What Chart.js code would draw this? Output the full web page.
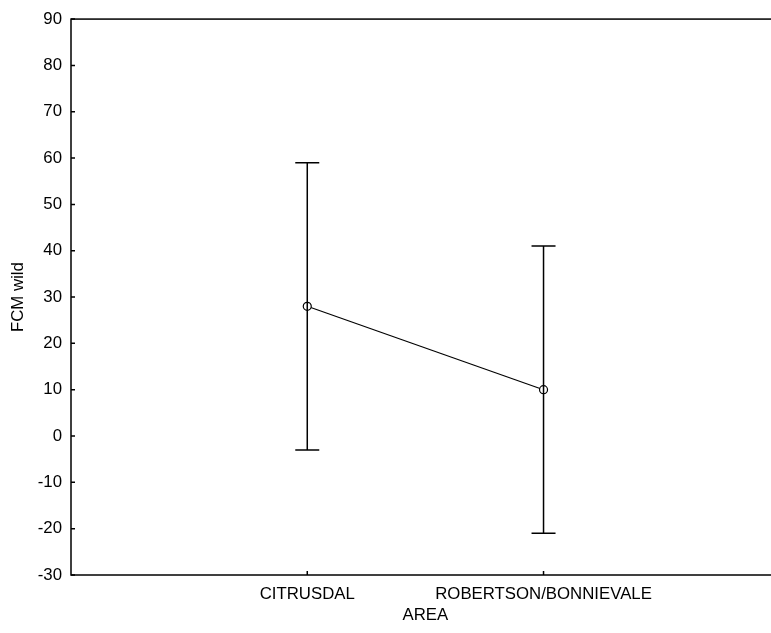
<!DOCTYPE html>
<html>
<head>
<meta charset="utf-8">
<script src="https://cdn.jsdelivr.net/npm/chart.js@4.4.0/dist/chart.umd.min.js"></script>
<style>
  html, body { margin: 0; padding: 0; background: #fff; overflow: hidden; }
  #wrap { width: 771px; height: 633px; overflow: hidden; }
</style>
</head>
<body>
<div id="wrap"><canvas id="chart" width="785" height="633"></canvas></div>
<script>
const areas = ['CITRUSDAL', 'ROBERTSON/BONNIEVALE'];
const means = [28, 10];
const upper = [59, 41];
const lower = [-3, -21];
const yTicks = [-30, -20, -10, 0, 10, 20, 30, 40, 50, 60, 70, 80, 90];

const font = { family: 'Liberation Sans, Arial, sans-serif', size: 16.8 };

// whiskers + caps, drawn over the line so the circles sit on the bar
const errorBars = {
  id: 'errorBars',
  afterDatasetsDraw(chart) {
    const { ctx, scales: { x, y } } = chart;
    ctx.save();
    ctx.strokeStyle = '#000';
    ctx.lineWidth = 1.5;
    areas.forEach((name, i) => {
      const px = x.getPixelForValue(i + 1);
      const top = y.getPixelForValue(upper[i]);
      const bot = y.getPixelForValue(lower[i]);
      ctx.beginPath();
      ctx.moveTo(px, top); ctx.lineTo(px, bot);
      ctx.moveTo(px - 12, top); ctx.lineTo(px + 12, top);
      ctx.moveTo(px - 12, bot); ctx.lineTo(px + 12, bot);
      ctx.stroke();
    });
    ctx.restore();
  }
};

// box round the plot with small inward ticks
const frame = {
  id: 'frame',
  afterDraw(chart) {
    const { ctx, chartArea: a, scales: { x, y } } = chart;
    ctx.save();
    ctx.strokeStyle = '#000';
    ctx.lineWidth = 1.5;
    ctx.strokeRect(a.left, a.top, a.right - a.left, a.bottom - a.top);
    ctx.beginPath();
    yTicks.forEach((v) => {
      const py = y.getPixelForValue(v);
      ctx.moveTo(a.left, py); ctx.lineTo(a.left + 4, py);
    });
    areas.forEach((n, i) => {
      const px = x.getPixelForValue(i + 1);
      ctx.moveTo(px, a.bottom); ctx.lineTo(px, a.bottom - 4);
    });
    ctx.stroke();
    ctx.restore();
  }
};

new Chart(document.getElementById('chart'), {
  type: 'line',
  data: {
    datasets: [{
      data: areas.map((a, i) => ({ x: i + 1, y: means[i] })),
      borderColor: '#000',
      borderWidth: 1.2,
      tension: 0,
      pointRadius: 4,
      pointBorderWidth: 1.2,
      pointBorderColor: '#000',
      pointBackgroundColor: '#fff',
    }],
  },
  options: {
    responsive: false,
    animation: false,
    devicePixelRatio: 1,
    layout: { padding: { top: 19, right: 1, left: 0, bottom: 0 } },
    plugins: { legend: { display: false }, tooltip: { enabled: false } },
    scales: {
      x: {
        type: 'linear',
        min: 0,
        max: 3,
        afterBuildTicks: (s) => { s.ticks = areas.map((a, i) => ({ value: i + 1 })); },
        afterFit: (s) => { s.height = 58; s.paddingLeft = 0; s.paddingRight = 0; },
        grid: { display: false, drawTicks: false },
        border: { display: false },
        ticks: {
          color: '#000', font, padding: 9, maxRotation: 0, autoSkip: false,
          callback: (v) => areas[Math.round(v) - 1],
        },
        title: { display: true, text: 'AREA', color: '#000', font, padding: { top: 0, bottom: 8 } },
      },
      y: {
        min: -30,
        max: 90,
        afterBuildTicks: (s) => { s.ticks = yTicks.map((v) => ({ value: v })); },
        afterFit: (s) => { s.width = 71; },
        grid: { display: false, drawTicks: false },
        border: { display: false },
        ticks: { color: '#000', font, padding: 9 },
        title: { display: true, text: 'FCM wild', color: '#000', font, padding: { top: 8, bottom: 0 } },
      },
    },
  },
  plugins: [errorBars, frame],
});
</script>
</body>
</html>
